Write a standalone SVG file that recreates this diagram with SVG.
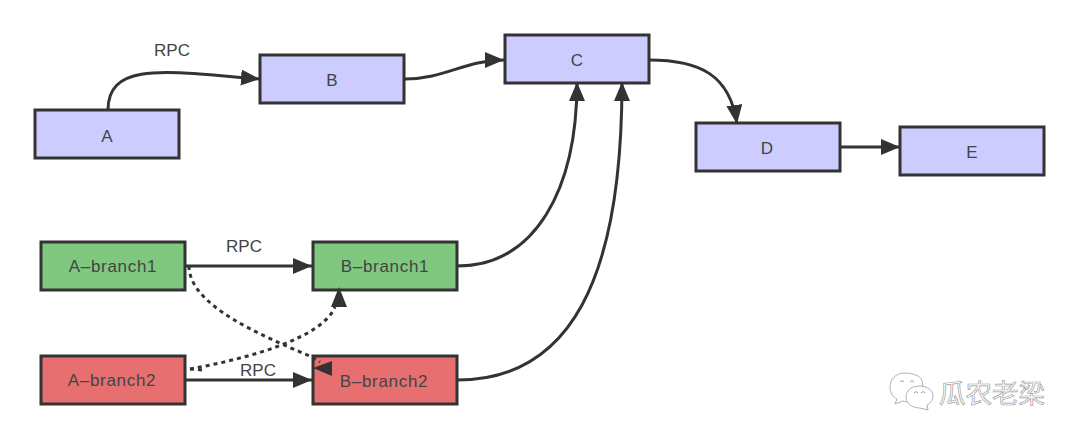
<svg xmlns="http://www.w3.org/2000/svg" width="1080" height="440" viewBox="0 0 1080 440">
  <style>
    .box { stroke: #333; stroke-width: 3; }
    .blue { fill: #ccccff; }
    .green { fill: #80c780; }
    .red { fill: #e76f6f; }
    .lbl { font-family: "Liberation Sans", Arial, sans-serif; font-size: 17px; fill: #444; text-anchor: middle; }
    .wide { letter-spacing: 0.7px; }
    .link { fill: none; stroke: #333; stroke-width: 3; }
    .dash { stroke-dasharray: 4 4; }
    .head { fill: #333; }
    .mark { font-family: "Noto Sans CJK SC", sans-serif; font-size: 26.5px; fill: #fff; stroke: #a0a0a0; stroke-width: 0.7; }
    .bubble { fill: #fff; stroke: #b0b0b0; stroke-width: 1; }
    .eye { fill: none; stroke: #a0a0a0; stroke-width: 1; }
  </style>
  <defs>
    <marker id="arrow" markerUnits="userSpaceOnUse" markerWidth="20" markerHeight="16" refX="19" refY="8" orient="auto">
      <path class="head" d="M0 0 L19 8 L0 16 Z"/>
    </marker>
  </defs>
  <rect width="1080" height="440" fill="#fff"/>

  <g id="node-a"><rect class="box blue" x="35" y="110" width="144" height="48"/><text class="lbl" x="107" y="142">A</text></g>
  <g id="node-b"><rect class="box blue" x="260" y="55" width="144" height="48"/><text class="lbl" x="332" y="86">B</text></g>
  <g id="node-c"><rect class="box blue" x="505" y="35" width="144" height="48"/><text class="lbl" x="577" y="66">C</text></g>
  <g id="node-d"><rect class="box blue" x="696" y="123" width="144" height="48"/><text class="lbl" x="767" y="154">D</text></g>
  <g id="node-e"><rect class="box blue" x="900" y="127" width="144" height="48"/><text class="lbl" x="972" y="158">E</text></g>
  <g id="node-a-branch1"><rect class="box green" x="41" y="242" width="144" height="48"/><text class="lbl wide" x="113" y="272">A–branch1</text></g>
  <g id="node-b-branch1"><rect class="box green" x="313" y="242" width="144" height="48"/><text class="lbl wide" x="385" y="272">B–branch1</text></g>
  <g id="node-a-branch2"><rect class="box red" x="41" y="356" width="144" height="48"/><text class="lbl wide" x="112" y="386">A–branch2</text></g>
  <g id="node-b-branch2"><rect class="box red" x="313" y="356" width="144" height="48"/><text class="lbl wide" x="384" y="387">B–branch2</text></g>

  <g id="connectors">
    <path class="link" marker-end="url(#arrow)" d="M108 110 C108 60 170 72 260 79"/>
    <path class="link" marker-end="url(#arrow)" d="M405 79 C445 79 465 60 504 60"/>
    <path class="link" marker-end="url(#arrow)" d="M649 60 C700 60 730 75 737 124"/>
    <path class="link" marker-end="url(#arrow)" d="M840 147 L900 147"/>
    <path class="link" marker-end="url(#arrow)" d="M457 266 C535 266 577 190 577 82"/>
    <path class="link" marker-end="url(#arrow)" d="M457 380 C570 380 622 280 622 82"/>
    <path class="link" marker-end="url(#arrow)" d="M186 266 L312 266"/>
    <path class="link" marker-end="url(#arrow)" d="M186 380 L312 380"/>
    <path class="link dash" d="M189 266 C189 305 260 335 312 357 L320 362"/>
    <path class="head" d="M313 368 L332 361 L332 376 Z"/>
    <path class="link dash" d="M190 369 C250 358 322 338 335 307"/>
    <path class="head" d="M339 287 L331 307 L347 307 Z"/>
    <path class="link dash" d="M190 369 L203 370"/>
  </g>

  <g id="edge-labels">
    <text class="lbl" x="172" y="56">RPC</text>
    <text class="lbl" x="244" y="252">RPC</text>
    <text class="lbl" x="258" y="376">RPC</text>
  </g>

  <g id="badge">
    <path class="bubble" d="M905 373 C895 373 890 380 890 387 C890 393 893 397 897 399 L895 404 L903 401 C906 402 909 402 911 402 C924 398 926 380 918 376 C914 374 909 373 905 373 Z"/>
    <path class="bubble" d="M919 386 C911 386 906 391 906 397 C906 404 913 408 920 408 L928 410 L927 405 C931 403 933 400 933 396 C933 390 927 386 919 386 Z"/>
    <path class="eye" d="M900 382 Q902 379 904 382 M910 382 Q912 379 914 382 M914 393 Q916 390 918 393 M921 393 Q923 390 925 393"/>
    <text class="mark" x="939" y="403">瓜农老梁</text>
  </g>
</svg>
